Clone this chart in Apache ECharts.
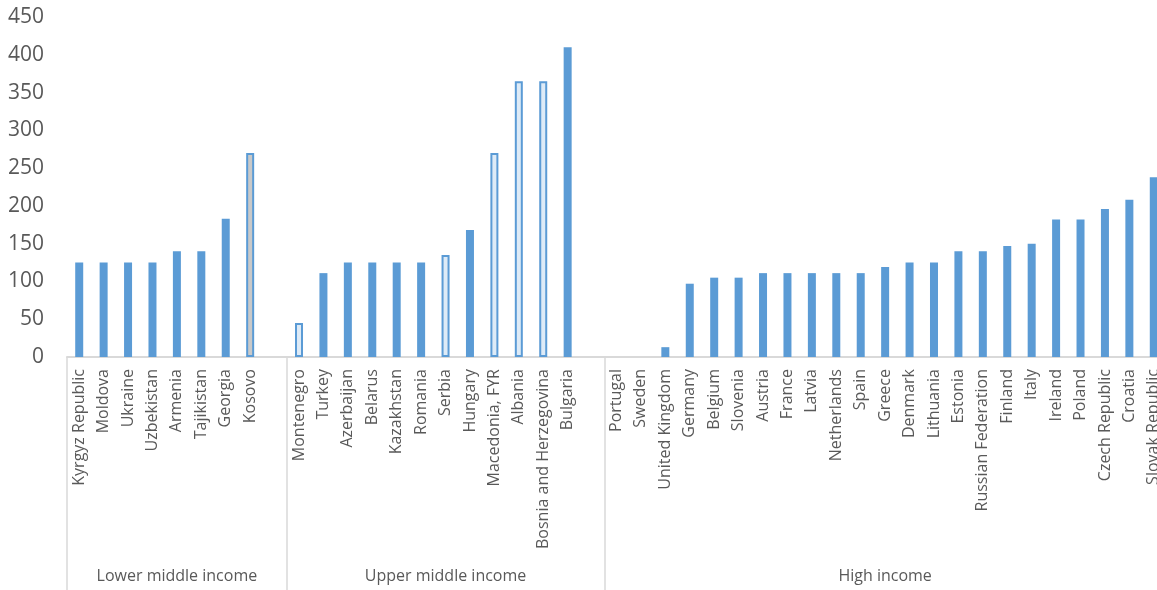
<!DOCTYPE html>
<html>
<head>
<meta charset="utf-8">
<script src="https://cdn.jsdelivr.net/npm/echarts@6/dist/echarts.min.js"></script>
<style>
html,body{margin:0;padding:0;background:#fff;overflow:hidden;width:1157px;height:590px;}
#chart{width:1180px;height:590px;}
</style>
</head>
<body>
<div id="chart"></div>
<script>
// ---- data ----
const groupNames = ["Lower middle income", "Upper middle income", "High income"];
const lowerCountries = ["Kyrgyz Republic", "Moldova", "Ukraine", "Uzbekistan", "Armenia", "Tajikistan", "Georgia", "Kosovo"];
const lowerValues = [125, 125, 125, 125, 140, 140, 183, 270];
const upperCountries = ["Montenegro", "Turkey", "Azerbaijan", "Belarus", "Kazakhstan", "Romania", "Serbia", "Hungary", "Macedonia, FYR", "Albania", "Bosnia and Herzegovina", "Bulgaria"];
const upperValues = [45, 111, 125, 125, 125, 125, 135, 168, 270, 365, 365, 410];
const highCountries = ["Portugal", "Sweden", "United Kingdom", "Germany", "Belgium", "Slovenia", "Austria", "France", "Latvia", "Netherlands", "Spain", "Greece", "Denmark", "Lithuania", "Estonia", "Russian Federation", "Finland", "Italy", "Ireland", "Poland", "Czech Republic", "Croatia", "Slovak Republic"];
const highValues = [0, 0, 13, 97, 105, 105, 111, 111, 111, 111, 111, 119, 125, 125, 140, 140, 147, 150, 182, 182, 196, 208, 238];
const lightBars = ["Montenegro", "Serbia", "Macedonia, FYR", "Albania", "Bosnia and Herzegovina"];
const greyBars = ["Kosovo"];
const yTicks = [0, 50, 100, 150, 200, 250, 300, 350, 400, 450];

// ---- build flattened category list (blank slot after each group except last) ----
const groups = [
  {names: lowerCountries, values: lowerValues},
  {names: upperCountries, values: upperValues},
  {names: highCountries, values: highValues}
];
const categories = [];
const values = [];
const bounds = [0];
groups.forEach((g, gi) => {
  g.names.forEach((n, i) => { categories.push(n); values.push(g.values[i]); });
  if (gi < groups.length - 1) { categories.push(""); values.push(null); }
  bounds.push(categories.length);
});
const total = categories.length;
const mids = [];
for (let i = 0; i < groupNames.length; i++) mids.push((bounds[i] + bounds[i + 1]) / 2);

const BLUE = '#5B9BD5';
const barData = categories.map((c, i) => {
  if (values[i] === null) return null;
  if (lightBars.includes(c)) return {value: values[i], itemStyle: {color: '#DEEBF7', borderColor: BLUE, borderWidth: 2}};
  if (greyBars.includes(c)) return {value: values[i], itemStyle: {color: '#C9C9C9', borderColor: BLUE, borderWidth: 2}};
  return {value: values[i]};
});

const chart = echarts.init(document.getElementById('chart'));
chart.setOption({
  animation: false,
  grid: {left: 67, top: 17, width: 1099, height: 340, containLabel: false},
  xAxis: [
    {
      type: 'category',
      data: categories,
      position: 'bottom',
      axisLine: {show: true, lineStyle: {color: '#D9D9D9', width: 2}},
      axisTick: {show: false},
      axisLabel: {
        interval: 0, rotate: 90, margin: 12,
        fontFamily: 'Open Sans', fontSize: 16, color: '#595959'
      },
      splitLine: {show: false}
    },
    {
      type: 'value',
      min: 0, max: total,
      position: 'bottom',
      axisLine: {show: false},
      splitLine: {show: false},
      axisTick: {show: true, customValues: bounds, length: 240, inside: false,
        lineStyle: {color: '#D9D9D9', width: 1.5}},
      axisLabel: {
        show: true, customValues: mids, margin: 211,
        fontFamily: 'Open Sans', fontSize: 16, color: '#595959',
        formatter: function (v) {
          const idx = mids.indexOf(v);
          return idx >= 0 ? groupNames[idx] : '';
        }
      }
    }
  ],
  yAxis: {
    type: 'value', min: 0, max: 450, interval: 50,
    axisLine: {show: false}, axisTick: {show: false},
    splitLine: {show: false},
    axisLabel: {
      margin: 23, fontFamily: 'Open Sans', fontSize: 21, color: '#595959',
      customValues: yTicks
    }
  },
  series: [{
    type: 'bar',
    xAxisIndex: 0,
    data: barData,
    barWidth: 8,
    itemStyle: {color: BLUE}
  }]
});
</script>
</body>
</html>
